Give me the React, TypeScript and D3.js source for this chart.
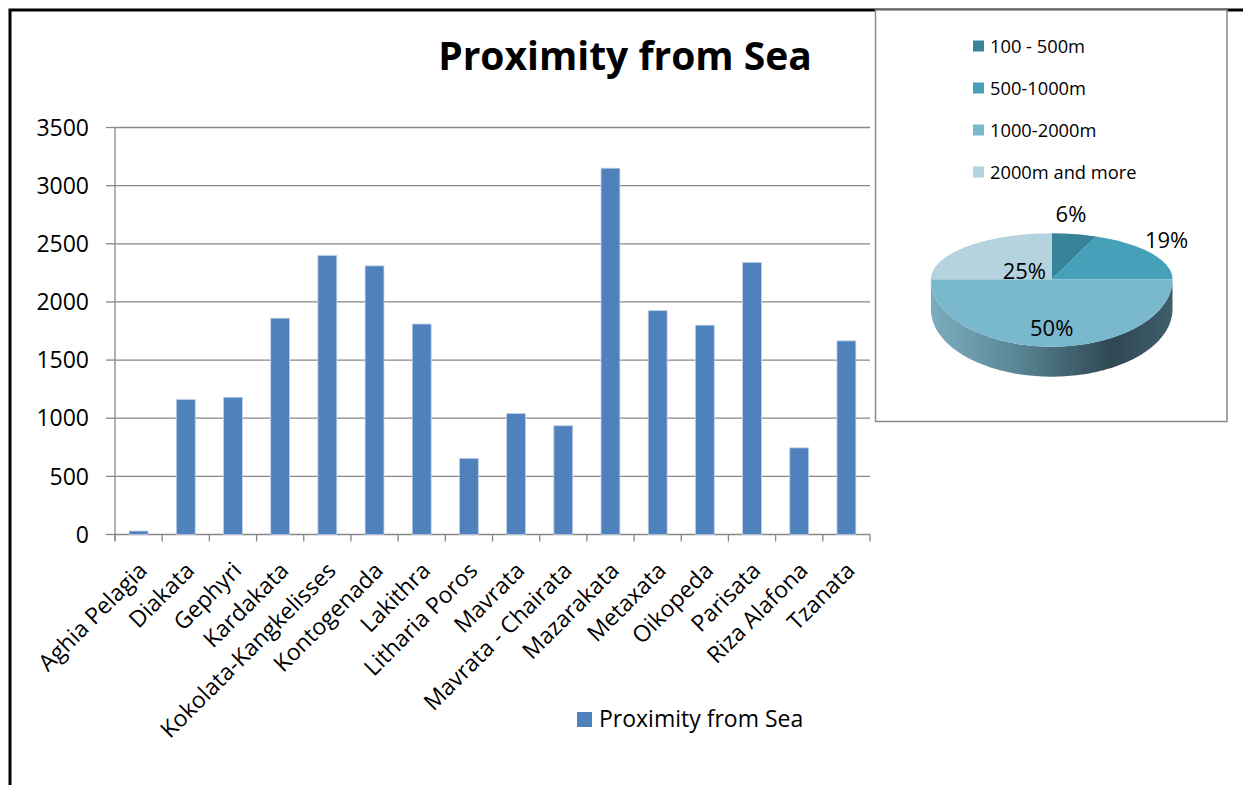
import React from "react";
import * as d3 from "d3";

const categories = [
  "Aghia Pelagia", "Diakata", "Gephyri", "Kardakata", "Kokolata-Kangkelisses",
  "Kontogenada", "Lakithra", "Litharia Poros", "Mavrata", "Mavrata - Chairata",
  "Mazarakata", "Metaxata", "Oikopeda", "Parisata", "Riza Alafona", "Tzanata",
];
const proximity = [30, 1160, 1180, 1860, 2400, 2310, 1810, 655, 1040, 935, 3150, 1925, 1800, 2340, 745, 1665];
const yTickValues = [0, 500, 1000, 1500, 2000, 2500, 3000, 3500];
const seriesName = "Proximity from Sea";
const chartTitle = "Proximity from Sea";

const pieCategories = ["100 - 500m", "500-1000m", "1000-2000m", "2000m and more"];
const pieShares = [6, 19, 50, 25];
const pieColors = ["#37839A", "#45A1BA", "#7AB8CE", "#B4D3DF"];
// label placement factors (relative to ellipse radii, along slice mid-angle)
const pieLabelFx = [0.85, 1.15, 0, 0.32];
const pieLabelFy = [1.45, 1.5, 0.72, 0.25];

const FONT = "'Open Sans', Lato, sans-serif";

export default function App() {
  const W = 1243, H = 785;
  const plot = { left: 115, right: 870, top: 127.5, bottom: 534.5 };

  const x = d3.scaleBand<string>().domain(categories).range([plot.left, plot.right]).paddingInner(0.6).paddingOuter(0.3);
  const step = x.step();
  const y = d3.scaleLinear().domain([0, 3500]).range([plot.bottom, plot.top]);
  const bandStart = (c: string) => (x(c) as number) - step * 0.3;
  const bandCenter = (c: string) => (x(c) as number) + x.bandwidth() / 2;

  // pie projection
  const cx = 1051.7, cy = 279.3, rx = 120.8, ryFar = 46, ryNear = 67.4, depth = 30;
  const proj = (a: number, dz = 0): [number, number] => {
    const c = Math.cos(a);
    return [cx + rx * Math.sin(a), cy - (c >= 0 ? ryFar : ryNear) * c + dz];
  };
  const pie = d3.pie<number>().sort(null).value((d) => d).startAngle(0).endAngle(2 * Math.PI);
  const arcs = pie(pieShares);
  const line = d3.line();
  const slicePath = (a0: number, a1: number) => {
    const n = Math.max(4, Math.ceil(((a1 - a0) / (2 * Math.PI)) * 180));
    const pts: [number, number][] = [[cx, cy]];
    for (let i = 0; i <= n; i++) pts.push(proj(a0 + ((a1 - a0) * i) / n));
    return line(pts) + "Z";
  };
  const sidePath = (() => {
    const a0 = Math.PI / 2, a1 = (3 * Math.PI) / 2, n = 120;
    const pts: [number, number][] = [];
    for (let i = 0; i <= n; i++) pts.push(proj(a0 + ((a1 - a0) * i) / n));
    for (let i = n; i >= 0; i--) pts.push(proj(a0 + ((a1 - a0) * i) / n, depth));
    return line(pts) + "Z";
  })();

  const legendRows = d3.scalePoint<string>().domain(pieCategories).range([46, 172]);

  return (
    <svg width={W} height={H} style={{ position: "absolute", left: 0, top: 0, background: "#fff" }} fontFamily={FONT}>
      <defs>
        <linearGradient id="sideGrad" x1={cx - rx} x2={cx + rx} y1={0} y2={0} gradientUnits="userSpaceOnUse">
          <stop offset="0" stopColor="#7DAEBE" />
          <stop offset="0.35" stopColor="#5A8695" />
          <stop offset="0.75" stopColor="#2F4853" />
          <stop offset="1" stopColor="#3E5F6B" />
        </linearGradient>
      </defs>
      <rect x={0} y={0} width={W} height={H} fill="#fff" />
      {/* outer chart border */}
      <rect x={10} y={10} width={1400} height={1000} fill="none" stroke="#000" strokeWidth={3} />

      {/* title */}
      <text x={625} y={70} textAnchor="middle" fontSize={39} fontWeight={700} fill="#000">{chartTitle}</text>

      {/* gridlines & y ticks */}
      {yTickValues.map((v) => (
        <g key={v}>
          <line x1={plot.left} x2={plot.right} y1={y(v)} y2={y(v)} stroke="#878787" strokeWidth={1.3} />
          <line x1={106} x2={plot.left} y1={y(v)} y2={y(v)} stroke="#878787" strokeWidth={1.3} />
          <text x={89} y={y(v)} dy="0.36em" textAnchor="end" fontSize={23} fill="#000">{v}</text>
        </g>
      ))}
      {/* y axis line */}
      <line x1={plot.left} x2={plot.left} y1={plot.top} y2={plot.bottom + 6} stroke="#878787" strokeWidth={1.3} />
      {/* x ticks */}
      {categories.map((c) => (
        <line key={c} x1={bandStart(c)} x2={bandStart(c)} y1={plot.bottom} y2={plot.bottom + 7} stroke="#878787" strokeWidth={1.3} />
      ))}
      <line x1={plot.right} x2={plot.right} y1={plot.bottom} y2={plot.bottom + 7} stroke="#878787" strokeWidth={1.3} />

      {/* bars */}
      {categories.map((c, i) => (
        <rect key={c} x={x(c)} y={y(proximity[i])} width={x.bandwidth()} height={plot.bottom - y(proximity[i])}
          fill="#4F81BD" stroke="#BFD0E6" strokeWidth={0.8} />
      ))}

      {/* x labels */}
      {categories.map((c) => (
        <text key={c} transform={`translate(${bandCenter(c) + 10},${572}) rotate(-45)`} textAnchor="end" fontSize={23} fill="#000">{c}</text>
      ))}

      {/* bottom legend */}
      <rect x={577} y={712} width={15} height={15} fill="#4F81BD" />
      <text x={599} y={727} fontSize={23} fill="#000">{seriesName}</text>

      {/* pie box */}
      <rect x={875.5} y={10} width={351.5} height={411.5} fill="#fff" stroke="#8A8A8A" strokeWidth={1.5} />
      {pieCategories.map((c, i) => (
        <g key={c}>
          <rect x={973} y={(legendRows(c) as number) - 5.5} width={11} height={11} fill={pieColors[i]} />
          <text x={990} y={(legendRows(c) as number)} dy="0.36em" fontSize={18.3} fill="#000">{c}</text>
        </g>
      ))}
      <path d={sidePath} fill="url(#sideGrad)" />
      {arcs.map((a, i) => (
        <path key={i} d={slicePath(a.startAngle, a.endAngle)} fill={pieColors[i]} />
      ))}
      {arcs.map((a, i) => {
        const mid = (a.startAngle + a.endAngle) / 2;
        const c = Math.cos(mid);
        const lx = cx + rx * pieLabelFx[i] * Math.sin(mid);
        const ly = cy - (c >= 0 ? ryFar : ryNear) * pieLabelFy[i] * c;
        return (
          <text key={i} x={lx} y={ly} dy="0.36em" textAnchor="middle" fontSize={22} fill="#000">{`${pieShares[i]}%`}</text>
        );
      })}
    </svg>
  );
}
